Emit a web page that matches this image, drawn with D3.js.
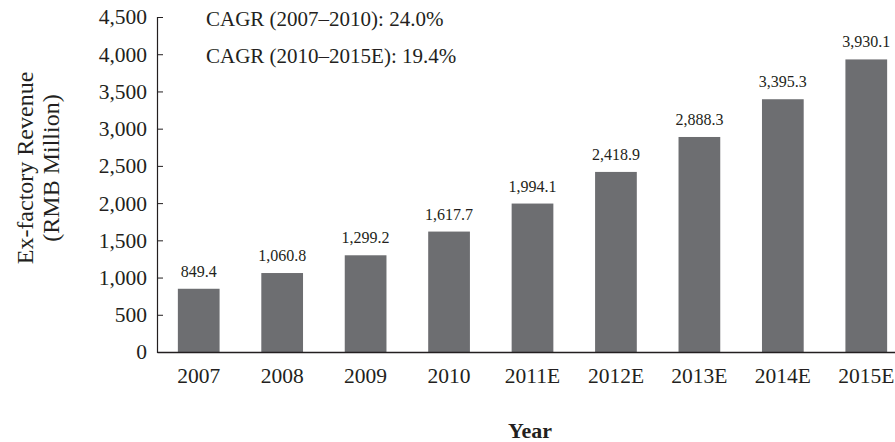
<!DOCTYPE html>
<html>
<head>
<meta charset="utf-8">
<script src="https://cdn.jsdelivr.net/npm/d3@7"></script>
<style>
  body { margin: 0; background: #fff; }
  svg text { font-family: "Liberation Serif", "Times New Roman", serif; fill: #231f20; }
</style>
</head>
<body>
<div id="chart"></div>
<script>
// data
var years = ["2007", "2008", "2009", "2010", "2011E", "2012E", "2013E", "2014E", "2015E"];
var revenue = [849.4, 1060.8, 1299.2, 1617.7, 1994.1, 2418.9, 2888.3, 3395.3, 3930.1];
var yTicks = [0, 500, 1000, 1500, 2000, 2500, 3000, 3500, 4000, 4500];
var notes = ["CAGR (2007\u20132010): 24.0%", "CAGR (2010\u20132015E): 19.4%"];

var width = 895, height = 442;
var barColor = "#6d6e71";
var ink = "#231f20";

var svg = d3.select("#chart").append("svg")
  .attr("width", width)
  .attr("height", height);

var x = d3.scaleBand()
  .domain(years)
  .range([157, 908])
  .paddingInner(0.5)
  .paddingOuter(0.25);

var y = d3.scaleLinear()
  .domain([0, 4500])
  .range([352, 17]);

var fmt = d3.format(",.1f");

// bars
svg.selectAll("rect.bar")
  .data(revenue)
  .enter()
  .append("rect")
  .attr("class", "bar")
  .attr("x", function(d, i) { return x(years[i]); })
  .attr("y", function(d) { return y(d); })
  .attr("width", x.bandwidth())
  .attr("height", function(d) { return y(0) - y(d); })
  .attr("fill", barColor);

// value labels
svg.selectAll("text.val")
  .data(revenue)
  .enter()
  .append("text")
  .attr("class", "val")
  .attr("x", function(d, i) { return x(years[i]) + x.bandwidth() / 2; })
  .attr("y", function(d) { return y(d) - 12; })
  .attr("text-anchor", "middle")
  .attr("font-size", 16)
  .text(function(d) { return fmt(d); });

// y axis, ticks point into the plot
var yAxis = d3.axisLeft(y)
  .tickValues(yTicks)
  .tickFormat(d3.format(","))
  .tickSize(-6)
  .tickPadding(10);

var gy = svg.append("g")
  .attr("transform", "translate(157,0)")
  .call(yAxis);
gy.select(".domain").attr("stroke", ink).attr("stroke-width", 1.2);
gy.selectAll(".tick line").attr("stroke", ink);
gy.selectAll(".tick text")
  .attr("font-size", 21.5)
  .attr("fill", ink)
  .style("font-family", "'Liberation Serif', serif");

// x axis, no tick marks
var xAxis = d3.axisBottom(x).tickSize(0).tickPadding(16);
var gx = svg.append("g")
  .attr("transform", "translate(0,352)")
  .call(xAxis);
gx.select(".domain").attr("stroke", ink).attr("stroke-width", 1.5);
gx.selectAll(".tick text")
  .attr("font-size", 21.5)
  .attr("fill", ink)
  .style("font-family", "'Liberation Serif', serif");

// CAGR notes
svg.selectAll("text.note")
  .data(notes)
  .enter()
  .append("text")
  .attr("class", "note")
  .attr("x", 206)
  .attr("y", function(d, i) { return 26 + i * 37; })
  .attr("font-size", 21)
  .text(function(d) { return d; });

// axis titles
var yTitle = svg.append("text")
  .attr("transform", "translate(33,168) rotate(-90)")
  .attr("text-anchor", "middle")
  .attr("font-size", 24);
yTitle.append("tspan").attr("x", 0).attr("dy", 0).text("Ex-factory Revenue");
yTitle.append("tspan").attr("x", 0).attr("dy", 26).text("(RMB Million)");

svg.append("text")
  .attr("x", 530)
  .attr("y", 438)
  .attr("text-anchor", "middle")
  .attr("font-size", 22)
  .attr("font-weight", "bold")
  .text("Year");
</script>
</body>
</html>
